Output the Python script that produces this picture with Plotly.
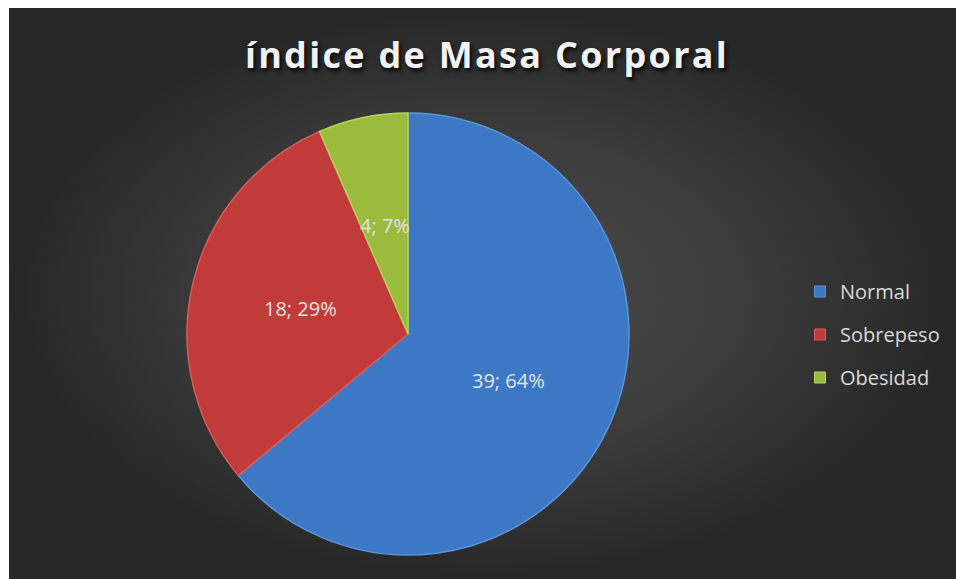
import math
import plotly.graph_objects as go

# ---- data ----
categories = ["Normal", "Sobrepeso", "Obesidad"]
values = [39, 18, 4]
slice_colors = ["#3c78c4", "#c13b3b", "#9bbb3b"]
edge_colors = ["#5b93dc", "#d45c5c", "#b5d35e"]
title_text = "índice de Masa Corporal"

# ---- layout constants ----
W, H = 956, 579
CX, CY, R = 408, 334, 221  # pie center / radius in pixels

fig = go.Figure()

# background panel with radial gradient (decoration)
fig.add_trace(go.Scatter(
    x=[9, W, W, 9, 9], y=[8, 8, H, H, 8],
    mode="lines", line=dict(width=0),
    fill="toself",
    fillgradient=dict(type="radial",
                      colorscale=[[0, "#4d4d4d"], [0.55, "#3c3c3c"], [1, "#272727"]]),
    hoverinfo="skip", showlegend=False,
))

total = sum(values)
fig.add_trace(go.Pie(
    labels=categories, values=values, sort=False, direction="clockwise",
    rotation=0,
    marker=dict(colors=slice_colors, line=dict(color=edge_colors, width=1.5)),
    textinfo="none", showlegend=False,
    domain=dict(x=[(CX - R) / W, (CX + R) / W], y=[1 - (CY + R) / H, 1 - (CY - R) / H]),
))

# percentages rounded so they sum to 100 (largest remainder)
raw = [v / total * 100 for v in values]
pct = [math.floor(p) for p in raw]
order = sorted(range(len(raw)), key=lambda i: raw[i] - pct[i], reverse=True)
for i in order[: 100 - sum(pct)]:
    pct[i] += 1

# data labels at half radius of slice mid-angle (value; percent)
cum = 0
for cat, v, p in zip(categories, values, pct):
    mid = (cum + v / 2) / total * 2 * math.pi
    cum += v
    lx = CX + 0.5 * R * math.sin(mid)
    ly = CY - 0.5 * R * math.cos(mid)
    fig.add_annotation(x=lx, y=ly, xref="x", yref="y",
                       text=f"{v}; {p}%", showarrow=False,
                       font=dict(family="Open Sans", size=20, color="#e2e2e2"))

# legend entries
for i, (cat, col) in enumerate(zip(categories, slice_colors)):
    fig.add_trace(go.Scatter(
        x=[None], y=[None], mode="markers", name=cat, legendgroup=cat,
        marker=dict(symbol="square", size=11, color=col,
                    line=dict(color=edge_colors[i], width=1)),
    ))

fig.update_layout(
    width=W, height=H,
    margin=dict(l=0, r=0, t=0, b=0),
    paper_bgcolor="white", plot_bgcolor="rgba(0,0,0,0)",
    xaxis=dict(range=[0, W], visible=False, fixedrange=True),
    yaxis=dict(range=[H, 0], visible=False, fixedrange=True),
    title=dict(text=f"<b>{title_text}</b>", x=487 / W, xanchor="center",
               y=1 - 55 / H, yanchor="middle",
               font=dict(family="Open Sans", size=36, color="#f2f2f2",
                         shadow="2px 3px 4px rgba(0,0,0,0.85)")),
    legend=dict(x=800 / W, xanchor="left", y=1 - 272 / H, yanchor="top",
                font=dict(family="Open Sans", size=20, color="#d9d9d9"),
                tracegroupgap=14, bgcolor="rgba(0,0,0,0)"),
    showlegend=True,
)

post = """
document.body.style.margin='0';
document.querySelectorAll('.gtitle').forEach(function(e){e.style.letterSpacing='2.3px';});
"""
fig.write_html("out.html", post_script=post, config={"displayModeBar": False})
